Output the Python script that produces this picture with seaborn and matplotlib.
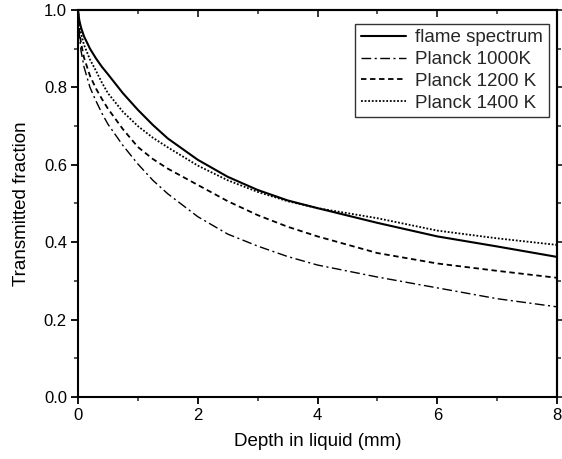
import numpy as np
import pandas as pd
import matplotlib
matplotlib.use("Agg")
import matplotlib.pyplot as plt
import seaborn as sns

depth = [0, 0.02, 0.05, 0.1, 0.2, 0.3, 0.4, 0.5, 0.75, 1, 1.25, 1.5, 2, 2.5, 3, 3.5, 4, 5, 6, 7, 8]
flame = [1.0, 0.975, 0.955, 0.932, 0.900, 0.875, 0.853, 0.834, 0.785, 0.742, 0.703, 0.668, 0.613, 0.569, 0.535, 0.508, 0.488, 0.450, 0.415, 0.389, 0.362]
p1000 = [1.0, 0.94, 0.895, 0.853, 0.800, 0.765, 0.733, 0.705, 0.650, 0.602, 0.560, 0.525, 0.466, 0.421, 0.390, 0.363, 0.341, 0.310, 0.282, 0.254, 0.233]
p1200 = [1.0, 0.95, 0.915, 0.877, 0.830, 0.797, 0.770, 0.745, 0.692, 0.646, 0.615, 0.590, 0.548, 0.506, 0.470, 0.440, 0.415, 0.372, 0.345, 0.326, 0.308]
p1400 = [1.0, 0.965, 0.94, 0.910, 0.872, 0.843, 0.812, 0.785, 0.737, 0.700, 0.670, 0.645, 0.598, 0.560, 0.530, 0.506, 0.488, 0.462, 0.430, 0.410, 0.393]
labels = ["flame spectrum", "Planck 1000K", "Planck 1200 K", "Planck 1400 K"]

frames = []
for lab, vals in zip(labels, [flame, p1000, p1200, p1400]):
    frames.append(pd.DataFrame({"depth": depth, "frac": vals, "series": lab}))
df = pd.concat(frames, ignore_index=True)

sns.set_theme(style="white")
plt.rcParams["font.family"] = ["Liberation Sans", "DejaVu Sans"]

fig = plt.figure(figsize=(5.62, 4.59), dpi=100)
ax = fig.add_axes([78/562, 1-397/459, (557-78)/562, (397-10)/459])

dashes = {
    "flame spectrum": "",
    "Planck 1000K": (7, 2.5, 1.5, 2.5),
    "Planck 1200 K": (3, 2),
    "Planck 1400 K": (1, 1),
}
palette = {lab: "black" for lab in labels}
widths = {"flame spectrum": 1.5, "Planck 1000K": 1.0, "Planck 1200 K": 1.3, "Planck 1400 K": 1.3}

sns.lineplot(data=df, x="depth", y="frac", hue="series", style="series",
             dashes=dashes, palette=palette, hue_order=labels, style_order=labels,
             ax=ax, linewidth=1.3, legend=True)
for line, lab in zip(ax.get_lines(), labels):
    line.set_linewidth(widths[lab])

ax.set_xlim(0, 8)
ax.set_ylim(0, 1.0)
ax.set_xticks([0, 2, 4, 6, 8])
ax.set_xticks([1, 3, 5, 7], minor=True)
ax.set_yticks(np.arange(0, 1.01, 0.2))
ax.set_yticks(np.arange(0.1, 1.0, 0.2), minor=True)
ax.set_xticklabels(["0", "2", "4", "6", "8"])
ax.set_yticklabels([f"{v:.1f}" for v in np.arange(0, 1.01, 0.2)])
ax.tick_params(axis="both", which="major", direction="out", length=5, width=1.3,
               labelsize=12, bottom=True, left=True, colors="black", pad=3)
ax.tick_params(axis="both", which="minor", direction="out", length=3, width=1.1,
               bottom=True, left=True)
ax.set_xlabel("Depth in liquid (mm)", fontsize=13.5, color="black", labelpad=7)
ax.set_ylabel("Transmitted fraction", fontsize=13.5, color="black", labelpad=10)
for s in ax.spines.values():
    s.set_visible(True)
    s.set_color("black")
    s.set_linewidth(1.5)

top = ax.secondary_xaxis("top")
top.set_xticks([0, 2, 4, 6, 8])
top.set_xticks([1, 3, 5, 7], minor=True)
top.tick_params(which="major", direction="in", length=5, width=1.3, labeltop=False)
top.tick_params(which="minor", direction="in", length=3, width=1.1)
top.set_xticklabels([])
top.spines["top"].set_linewidth(1.5)

right = ax.secondary_yaxis("right")
right.set_yticks(np.arange(0, 1.01, 0.2))
right.set_yticks(np.arange(0.1, 1.0, 0.2), minor=True)
right.tick_params(which="major", direction="out", length=5, width=1.3, labelright=False)
right.tick_params(which="minor", direction="out", length=3, width=1.1)
right.set_yticklabels([])
right.spines["right"].set_linewidth(1.5)

leg = ax.legend(loc="upper right", bbox_to_anchor=(0.983, 0.965), fontsize=13.5,
                frameon=True, fancybox=False, edgecolor="black", handlelength=2.4,
                handletextpad=0.5, borderpad=0.3, labelspacing=0.25, borderaxespad=0)
leg.get_frame().set_linewidth(1.0)
for h, lab in zip(leg.get_lines(), labels):
    h.set_linewidth(widths[lab])

fig.savefig("out.png", dpi=100)
